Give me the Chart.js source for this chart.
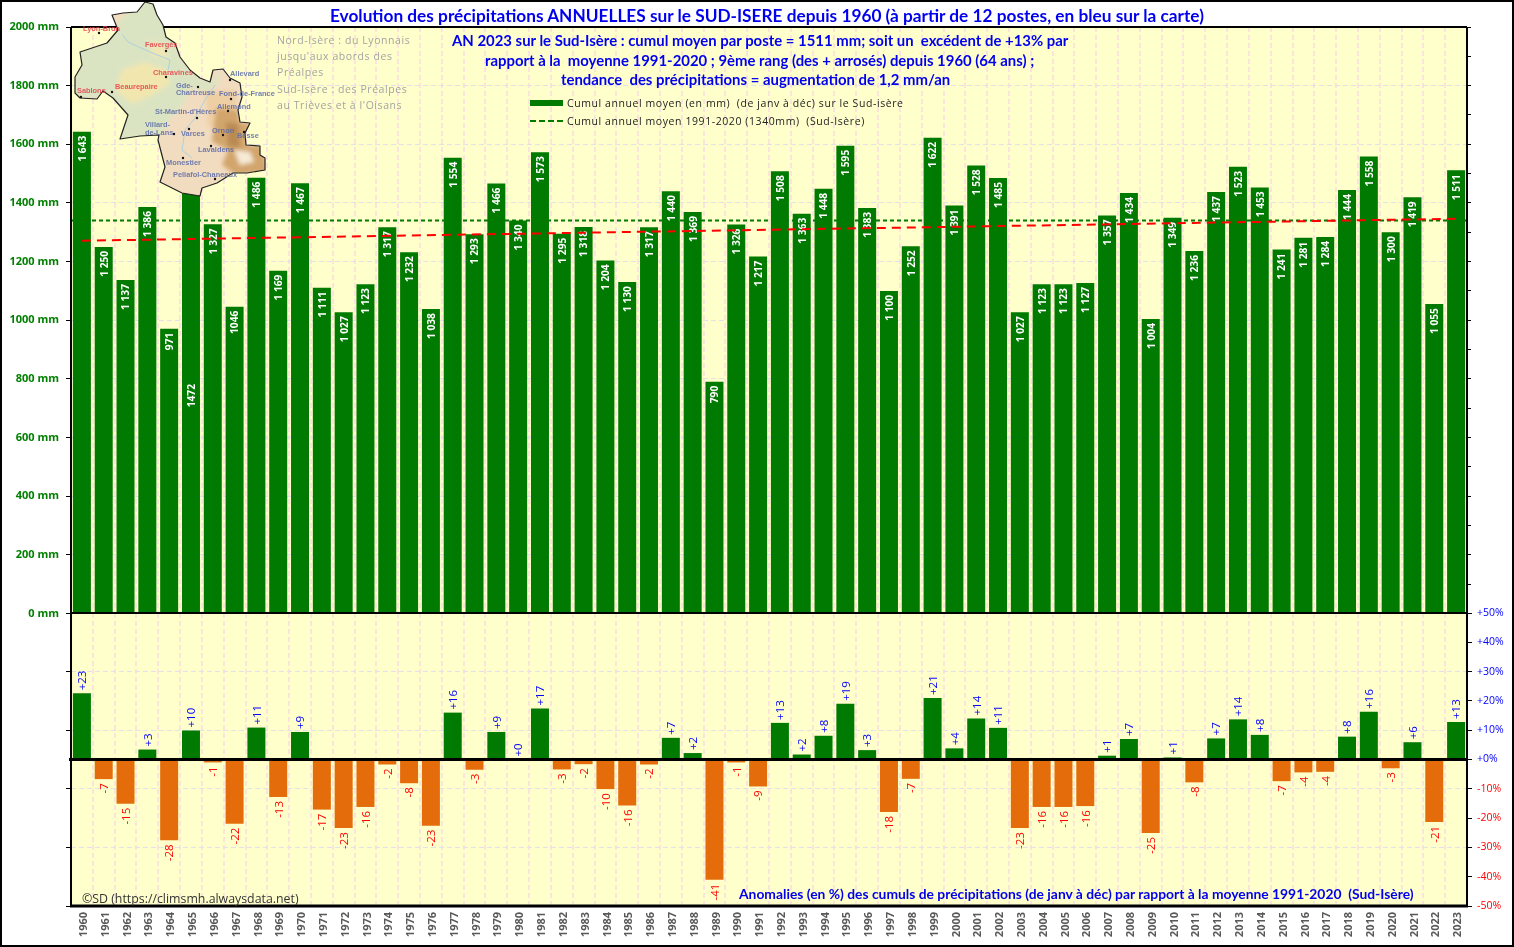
<!DOCTYPE html>
<html lang="fr">
<head>
<meta charset="utf-8">
<title>Précipitations annuelles Sud-Isère</title>
<script src="https://cdn.jsdelivr.net/npm/chart.js@4"></script>
<style>
html, body { margin: 0; padding: 0; background: #fff; }
#page { position: relative; width: 1514px; height: 947px; overflow: hidden; background: #fff; }
#page:after { content: ""; position: absolute; left: 0; top: 0; right: 0; bottom: 0; border: 2px solid #000; pointer-events: none; }
canvas { position: absolute; left: 0; }
#chartCumul { top: 0; }
#chartAnomalie { top: 600px; }
.txt { position: absolute; white-space: pre; font-family: Lato, sans-serif; font-weight: 700; color: #0000ee; }
.note { position: absolute; white-space: pre; left: 277px; font: 10.5px "Open Sans", sans-serif; letter-spacing: .57px; color: #a3a3a3; }
.leg { position: absolute; white-space: pre; left: 567px; font: 10.5px "Open Sans", sans-serif; letter-spacing: .58px; color: #222; }
#map { position: absolute; left: 0; top: 0; }
#map text { font-family: "Liberation Sans", sans-serif; font-size: 7.4px; font-weight: 700; opacity: .85; }
#map .n { fill: #e5404a; }
#map .s { fill: #5a6aa8; }
</style>
</head>
<body>
<div id="page">
  <canvas id="chartCumul" width="1514" height="627"></canvas>
  <canvas id="chartAnomalie" width="1514" height="347"></canvas>

  <svg id="map" width="1514" height="947" viewBox="0 0 1514 947">
    <defs>
      <!-- contour approximatif de l'Isere -->
      <polygon id="contour" points="145,2 153,4 157,15 163,25 166,37 175,43 180,57 190,70 200,78 210,82 213,70 223,69 230,78 240,83 242,97 238,110 240,122 250,123 245,133 246,145 260,146 260,155 265,158 265,170 247,173 233,173 217,183 202,188 200,196 182,193 160,182 165,167 158,140 159,135 140,136 120,139 128,115 113,98 103,91 97,99 80,98 75,93 75,77 82,65 80,52 107,43 118,30 112,15 123,13 137,12"/>
      <clipPath id="clipIsere"><use href="#contour"/></clipPath>
      <filter id="flou" x="-20%" y="-20%" width="140%" height="140%"><feGaussianBlur stdDeviation="2.2"/></filter>
    </defs>
    <use href="#contour" fill="#f2dcc0"/>
    <g clip-path="url(#clipIsere)">
      <g filter="url(#flou)">
        <polygon fill="#dbe4c2" points="140,0 160,0 170,38 182,58 192,72 212,82 222,68 218,84 206,92 190,88 186,100 178,112 170,118 166,128 160,137 120,140 110,98 70,100 70,50 110,30"/>
        <polygon fill="#f1e6ae" points="122,70 145,62 166,70 170,84 150,96 132,104 116,90"/>
        <polygon fill="#efe6b4" points="150,40 166,46 168,58 152,56"/>
        <polygon fill="#eecfa4" points="205,92 236,90 238,120 208,128"/>
        <polygon fill="#d2a56c" points="216,108 238,110 240,122 250,124 246,145 262,146 268,172 236,175 222,165 228,150 212,142"/>
        <polygon fill="#b98a52" points="226,122 238,124 240,148 228,146"/>
        <polygon fill="#f7ead6" points="234,150 250,152 254,162 240,165"/>
      </g>
      <polyline fill="none" stroke="#aed0dc" stroke-width="1" points="122,34 128,42 150,52 170,60 168,70"/>
      <polyline fill="none" stroke="#aed0dc" stroke-width="1" points="215,85 205,100 195,118 185,130 182,150 192,158"/>
    </g>
    <use href="#contour" fill="none" stroke="#222" stroke-width="1.2" stroke-linejoin="round"/>

    <g fill="#111">
      <circle cx="99" cy="33" r="1.2"/><circle cx="166" cy="51" r="1.2"/><circle cx="166" cy="77" r="1.2"/>
      <circle cx="230" cy="80" r="1.2"/><circle cx="112" cy="92" r="1.2"/><circle cx="198" cy="87" r="1.2"/>
      <circle cx="81" cy="97" r="1.2"/><circle cx="231" cy="99" r="1.2"/><circle cx="228" cy="111" r="1.2"/>
      <circle cx="197" cy="118" r="1.2"/><circle cx="174" cy="134" r="1.2"/><circle cx="189" cy="129" r="1.2"/>
      <circle cx="223" cy="135" r="1.2"/><circle cx="244" cy="132" r="1.2"/><circle cx="211" cy="146" r="1.2"/>
      <circle cx="183" cy="158" r="1.2"/><circle cx="215" cy="179" r="1.2"/>
    </g>
    <text class="n" x="83" y="31">Lyon-Bron</text>
    <text class="n" x="145" y="47">Favergès</text>
    <text class="n" x="153" y="75">Charavines</text>
    <text class="n" x="115" y="89">Beaurepaire</text>
    <text class="n" x="77" y="93">Sablons</text>
    <text class="s" x="230" y="76">Allevard</text>
    <text class="s" x="176" y="88">Gde-</text>
    <text class="s" x="176" y="95">Chartreuse</text>
    <text class="s" x="219" y="96">Fond-de-France</text>
    <text class="s" x="217" y="109">Allemond</text>
    <text class="s" x="155" y="114">St-Martin-d'Hères</text>
    <text class="s" x="145" y="127">Villard-</text>
    <text class="s" x="145" y="135">de-Lans</text>
    <text class="s" x="181" y="136">Varces</text>
    <text class="s" x="212" y="133">Ornon</text>
    <text class="s" x="237" y="138">Besse</text>
    <text class="s" x="198" y="152">Lavaldens</text>
    <text class="s" x="166" y="165">Monestier</text>
    <text class="s" x="173" y="177">Pellafol-Chaneaux</text>
  </svg>

  <div class="txt" style="left:330px;top:5px;font-size:17.25px">Evolution des précipitations ANNUELLES sur le SUD-ISERE depuis 1960 (à partir de 12 postes, en bleu sur la carte)</div>
  <div class="txt" style="left:452px;top:31px;font-size:14.9px">AN 2023 sur le Sud-Isère : cumul moyen par poste = 1511 mm; soit un  excédent de +13% par</div>
  <div class="txt" style="left:485px;top:51px;font-size:14.9px">rapport à la  moyenne 1991-2020 ; 9ème rang (des + arrosés) depuis 1960 (64 ans) ;</div>
  <div class="txt" style="left:561px;top:70px;font-size:14.9px">tendance  des précipitations = augmentation de 1,2 mm/an</div>

  <div class="note" style="top:33px">Nord-Isère : du Lyonnais</div>
  <div class="note" style="top:49px">jusqu'aux abords des</div>
  <div class="note" style="top:65px">Préalpes</div>
  <div class="note" style="top:82px">Sud-Isère : des Préalpes</div>
  <div class="note" style="top:98px">au Trièves et à l'Oisans</div>

  <div style="position:absolute;left:530px;top:100px;width:33px;height:6px;background:#007a00"></div>
  <div style="position:absolute;left:530px;top:120px;width:33px;border-top:2px dashed #007a00"></div>
  <div class="leg" style="top:96px">Cumul annuel moyen (en mm)  (de janv à déc) sur le Sud-isère</div>
  <div class="leg" style="top:114px">Cumul annuel moyen 1991-2020 (1340mm)  (Sud-Isère)</div>

  <div class="txt" style="left:82px;top:890px;font:12.35px 'Open Sans',sans-serif;color:#333">©SD (https://climsmh.alwaysdata.net)</div>
  <div class="txt" style="left:739px;top:885px;font-size:13.85px">Anomalies (en %) des cumuls de précipitations (de janv à déc) par rapport à la moyenne 1991-2020  (Sud-Isère)</div>
</div>

<script>
// Donnees
const annees = ['1960','1961','1962','1963','1964','1965','1966','1967','1968','1969',
    '1970','1971','1972','1973','1974','1975','1976','1977','1978','1979',
    '1980','1981','1982','1983','1984','1985','1986','1987','1988','1989',
    '1990','1991','1992','1993','1994','1995','1996','1997','1998','1999',
    '2000','2001','2002','2003','2004','2005','2006','2007','2008','2009',
    '2010','2011','2012','2013','2014','2015','2016','2017','2018','2019',
    '2020','2021','2022','2023'];

const cumuls = [1643,1250,1137,1386,971,1472,1327,1046,1486,1169,
    1467,1111,1027,1123,1317,1232,1038,1554,1293,1466,
    1340,1573,1295,1318,1204,1130,1317,1440,1369,790,
    1326,1217,1508,1363,1448,1595,1383,1100,1252,1622,
    1391,1528,1485,1027,1123,1123,1127,1357,1434,1004,
    1349,1236,1437,1523,1453,1241,1281,1284,1444,1558,
    1300,1419,1055,1511];

const cumulLabels = ['1 643','1 250','1 137','1 386','971','1472','1 327','1046','1 486','1 169',
    '1 467','1 111','1 027','1 123','1 317','1 232','1 038','1 554','1 293','1 466',
    '1 340','1 573','1 295','1 318','1 204','1 130','1 317','1 440','1 369','790',
    '1 326','1 217','1 508','1 363','1 448','1 595','1 383','1 100','1 252','1 622',
    '1 391','1 528','1 485','1 027','1 123','1 123','1 127','1 357','1 434','1 004',
    '1 349','1 236','1 437','1 523','1 453','1 241','1 281','1 284','1 444','1 558',
    '1 300','1 419','1 055','1 511'];

const anomalies = [22.6,-6.7,-15.1,3.4,-27.6,9.9,-1.0,-21.9,10.9,-12.8,
    9.4,-17.1,-23.4,-16.2,-1.7,-8.1,-22.6,16.0,-3.5,9.4,
    0,17.4,-3.4,-1.6,-10.1,-15.7,-1.7,7.4,2.2,-41.0,
    -1.0,-9.2,12.5,1.7,8.1,19.0,3.2,-17.9,-6.6,21.0,
    3.8,14.0,10.8,-23.4,-16.2,-16.2,-15.9,1.3,7.0,-25.1,
    0.7,-7.8,7.2,13.7,8.4,-7.4,-4.4,-4.2,7.8,16.3,
    -3.0,5.9,-21.3,12.8];

const moyenne9120 = [{x: -0.5, y: 1340}, {x: 63.5, y: 1340}];
const tendance = [{x: 0, y: 1271}, {x: 63, y: 1346}];

const VERT = '#007a00';
const ORANGE = '#e46c0a';
const FOND = '#ffffcc';
const GRILLE_H = '#e2e0ec';
const GRILLE_V = '#fbe4dc';

// Fond jaune et cadre noir de la zone de trace
const cadre = {
    id: 'cadre',
    beforeDraw(chart) {
        const a = chart.chartArea, c = chart.ctx;
        c.save();
        c.fillStyle = FOND;
        c.fillRect(a.left, a.top, a.width, a.height);
        c.restore();
    },
    afterDraw(chart) {
        const a = chart.chartArea, c = chart.ctx;
        c.save();
        c.strokeStyle = '#000';
        c.lineWidth = 2;
        c.beginPath();
        c.moveTo(a.left, a.top); c.lineTo(a.left, a.bottom);
        c.moveTo(a.right, a.top); c.lineTo(a.right, a.bottom);
        c.moveTo(a.left, a.top); c.lineTo(a.right, a.top);
        c.stroke();
        c.lineWidth = 3;
        c.beginPath();
        c.moveTo(a.left - 1, a.bottom); c.lineTo(a.right + 1, a.bottom);
        if (chart.scales.y.min < 0) {
            const y0 = chart.scales.y.getPixelForValue(0);
            c.moveTo(a.left - 2, y0); c.lineTo(a.right, y0);
        }
        c.stroke();
        c.restore();
    }
};

// Etiquettes verticales blanches dans les barres de cumul
const etiquettesCumul = {
    id: 'etiquettesCumul',
    afterDatasetDraw(chart, args) {
        if (args.index !== 0) return;
        const c = chart.ctx;
        c.save();
        c.font = '700 10.2px "Open Sans", sans-serif';
        c.fillStyle = '#fff';
        c.textAlign = 'right';
        c.textBaseline = 'middle';
        args.meta.data.forEach((bar, i) => {
            // 1965 : etiquette descendue sous la carte dans l'original
            const y = annees[i] === '1965' ? 384 : bar.y + 4;
            c.save();
            c.translate(bar.x + 1, y);
            c.rotate(-Math.PI / 2);
            c.fillText(cumulLabels[i], 0, 0);
            c.restore();
        });
        c.restore();
    }
};

// Etiquettes des anomalies, au-dessus ou au-dessous de la barre
const etiquettesAnomalie = {
    id: 'etiquettesAnomalie',
    afterDatasetsDraw(chart) {
        const c = chart.ctx;
        c.save();
        c.font = '11.5px "Open Sans", sans-serif';
        c.textBaseline = 'middle';
        chart.getDatasetMeta(0).data.forEach((bar, i) => {
            const v = anomalies[i];
            const rounded = Math.round(v);
            const positif = v >= 0;
            c.save();
            c.translate(bar.x + 1, bar.y + (positif ? -3 : 4));
            c.rotate(-Math.PI / 2);
            c.fillStyle = positif ? '#0000ff' : '#ff0000';
            c.textAlign = positif ? 'left' : 'right';
            c.fillText(positif ? '+' + rounded : String(rounded), 0, 0);
            c.restore();
        });
        c.restore();
    }
};

Chart.defaults.animation = false;
Chart.defaults.responsive = false;
Chart.defaults.devicePixelRatio = 1;
Chart.defaults.plugins.legend.display = false;
Chart.defaults.plugins.tooltip.enabled = false;

new Chart(document.getElementById('chartCumul'), {
    type: 'bar',
    data: {
        labels: annees,
        datasets: [
            {
                label: 'Cumul annuel moyen (en mm)  (de janv à déc) sur le Sud-isère',
                data: cumuls,
                backgroundColor: VERT,
                barPercentage: 0.825,
                categoryPercentage: 1,
                grouped: false,
                order: 2
            },
            {
                type: 'line',
                label: 'Cumul annuel moyen 1991-2020 (1340mm)  (Sud-Isère)',
                data: moyenne9120,
                xAxisID: 'xNum',
                borderColor: VERT,
                borderWidth: 2,
                borderDash: [4, 3],
                pointRadius: 0,
                order: 3
            },
            {
                type: 'line',
                label: 'Tendance',
                data: tendance,
                xAxisID: 'xNum',
                borderColor: '#ff0000',
                borderWidth: 2,
                borderDash: [9, 6],
                pointRadius: 0,
                order: 1
            }
        ]
    },
    options: {
        layout: { padding: { top: 27, bottom: 0 } },
        scales: {
            x: {
                ticks: { display: false },
                grid: { color: GRILLE_V, lineWidth: 2, drawTicks: false },
                border: { display: false, dash: [5, 3] },
                afterFit(scale) { scale.height = 0; }
            },
            xNum: { type: 'linear', min: -0.5, max: 63.5, offset: false, display: false },
            y: {
                min: 0,
                max: 2000,
                ticks: {
                    stepSize: 200,
                    padding: 7,
                    color: '#008000',
                    font: { family: '"Open Sans", sans-serif', size: 11, weight: '700' },
                    callback: v => v + ' mm'
                },
                grid: { color: GRILLE_H, tickColor: '#000', tickLength: 5 },
                border: { display: false, dash: [5, 3] },
                afterFit(scale) { scale.width = 71; }
            },
            yDroite: {
                position: 'right',
                min: 0,
                max: 2000,
                ticks: { stepSize: 100, callback: () => '' },
                grid: { drawOnChartArea: false, tickColor: '#000', tickLength: 4 },
                border: { display: false },
                afterFit(scale) { scale.width = 47; }
            }
        }
    },
    plugins: [cadre, etiquettesCumul]
});

new Chart(document.getElementById('chartAnomalie'), {
    type: 'bar',
    data: {
        labels: annees,
        datasets: [{
            label: 'Anomalies (en %)',
            data: anomalies,
            backgroundColor: ctx => ctx.raw >= 0 ? VERT : ORANGE,
            barPercentage: 0.825,
            categoryPercentage: 1
        }]
    },
    options: {
        layout: { padding: { top: 13 } },
        scales: {
            x: {
                ticks: {
                    autoSkip: false,
                    minRotation: 90,
                    maxRotation: 90,
                    padding: 6,
                    labelOffset: 2,
                    color: '#595959',
                    font: { family: '"Open Sans", sans-serif', size: 11, weight: '700' }
                },
                grid: { color: GRILLE_V, lineWidth: 2, drawTicks: false },
                border: { display: false, dash: [5, 3] },
                afterFit(scale) { scale.height = 41; }
            },
            y: {
                min: -50,
                max: 50,
                ticks: { stepSize: 20, callback: () => '' },
                grid: { color: GRILLE_H, tickColor: '#000', tickLength: 5 },
                border: { display: false, dash: [5, 3] },
                afterFit(scale) { scale.width = 71; }
            },
            yDroite: {
                position: 'right',
                min: -50,
                max: 50,
                ticks: {
                    stepSize: 10,
                    padding: 5,
                    color: ctx => ctx.tick.value < 0 ? '#ff0000' : '#0000ff',
                    font: { family: '"Open Sans", sans-serif', size: 10.5 },
                    callback: v => (v >= 0 ? '+' : '') + v + '%'
                },
                grid: { drawOnChartArea: false, tickColor: '#000', tickLength: 5 },
                border: { display: false },
                afterFit(scale) { scale.width = 47; }
            }
        }
    },
    plugins: [cadre, etiquettesAnomalie]
});
</script>
</body>
</html>
